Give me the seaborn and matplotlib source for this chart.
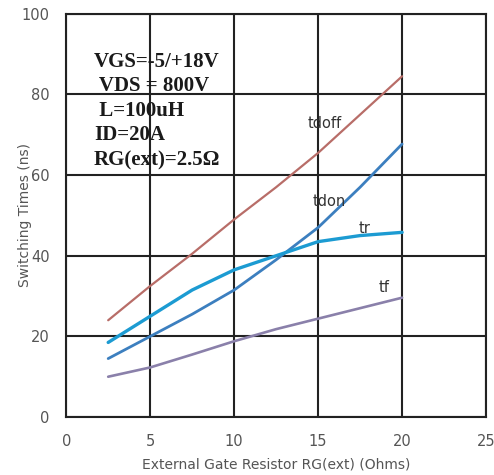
import matplotlib
matplotlib.use("Agg")
import matplotlib.pyplot as plt
import seaborn as sns
import pandas as pd

rg = [2.5, 5, 7.5, 10, 12.5, 15, 17.5, 20]
tdoff = [24, 32.5, 40.5, 49, 57, 65.5, 75, 84.5]
tdon = [14.5, 20, 25.5, 31.5, 39, 47, 57, 67.7]
tr = [18.5, 25, 31.5, 36.5, 40, 43.5, 45, 45.8]
tf = [10, 12.3, 15.5, 18.8, 21.8, 24.4, 27, 29.6]

series_names = ["tdoff", "tdon", "tr", "tf"]
colors = {"tdoff": "#b86d68", "tdon": "#3c7fbf", "tr": "#1c9bd2", "tf": "#8a80aa"}
widths = {"tdoff": 1.6, "tdon": 2.0, "tr": 2.4, "tf": 1.9}

x_ticks = [0, 5, 10, 15, 20, 25]
y_ticks = [0, 20, 40, 60, 80, 100]

conditions = ["VGS=-5/+18V", " VDS = 800V", " L=100uH", "ID=20A", "RG(ext)=2.5Ω"]

df = pd.concat([
    pd.DataFrame({"RG": rg, "t": vals, "curve": name})
    for name, vals in zip(series_names, [tdoff, tdon, tr, tf])
])

sns.set_theme(style="white")
fig = plt.figure(figsize=(4.94, 4.75), dpi=100)
ax = fig.add_axes([0.134, 0.122, 0.850, 0.849])

for name in series_names:
    sns.lineplot(data=df[df["curve"] == name], x="RG", y="t", ax=ax,
                 color=colors[name], linewidth=widths[name], legend=False)

ax.set_xlim(0, 25)
ax.set_ylim(0, 100)
ax.set_xticks(x_ticks)
ax.set_yticks(y_ticks)
ax.grid(True, color="#222222", linewidth=1.5)
ax.set_axisbelow(True)
for s in ax.spines.values():
    s.set_color("#222222")
    s.set_linewidth(1.5)
ax.tick_params(axis="both", length=0, labelsize=10.5, labelcolor="#555555")
ax.tick_params(axis="x", pad=12)
ax.tick_params(axis="y", pad=12)
ax.set_xlabel("External Gate Resistor RG(ext) (Ohms)", fontsize=10, color="#555555", labelpad=6)
ax.set_ylabel("Switching Times (ns)", fontsize=10, color="#555555")
ax.yaxis.set_label_coords(-0.082, 0.5)

label_pos = {"tdoff": (14.4, 71), "tdon": (14.7, 51.5), "tr": (17.4, 45), "tf": (18.6, 30.3)}
for name, (lx, ly) in label_pos.items():
    ax.text(lx, ly, name, fontsize=10.5, color="#333333", ha="left", va="bottom")

cond_y = [88, 82, 76, 70, 63.5]
for txt, cy in zip(conditions, cond_y):
    ax.text(1.65, cy, txt, fontsize=15, fontweight="bold", family="Liberation Serif",
            color="#1a1a1a", ha="left", va="center")

fig.savefig("out.png", dpi=100)
